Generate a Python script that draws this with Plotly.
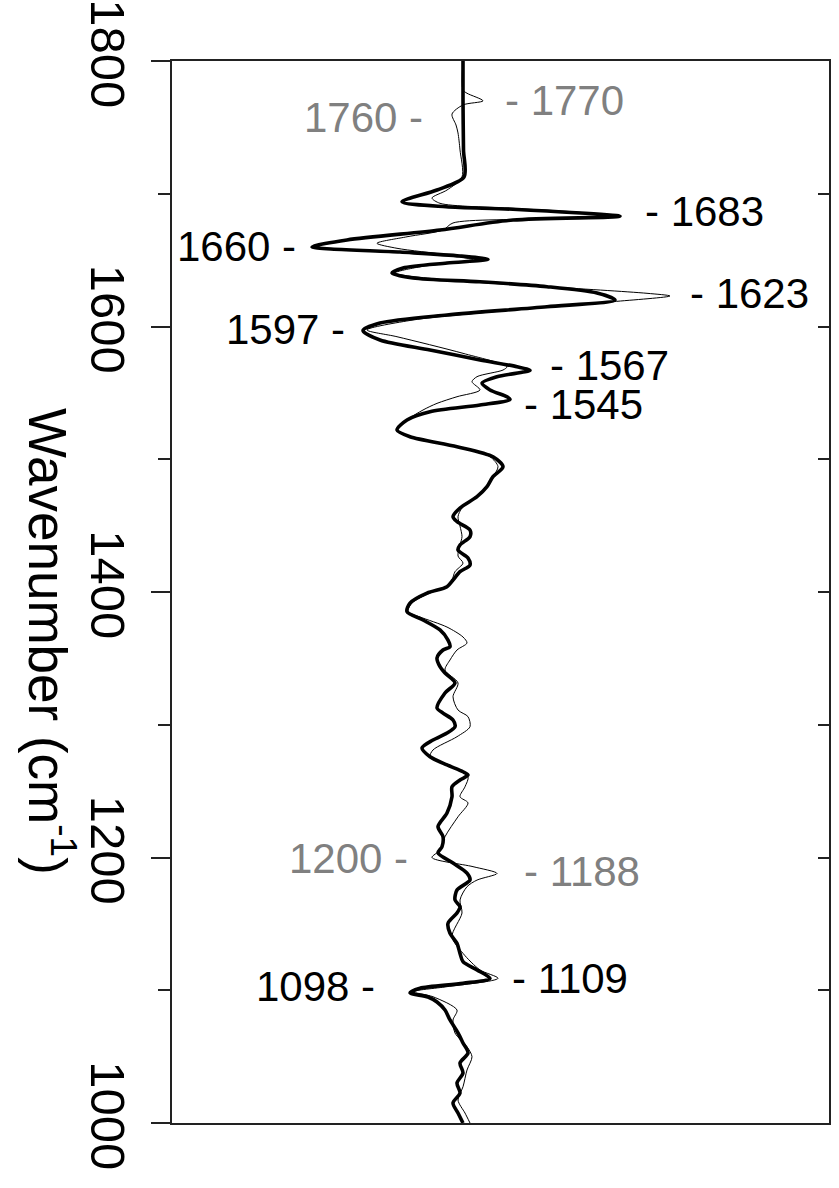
import plotly.graph_objects as go

# Difference spectra: wavenumber (cm-1) and intensity (arbitrary units)
wn_a = [1800, 1770.6, 1733, 1712.6, 1702.8, 1694, 1690.2, 1688.3, 1683, 1680.2,
        1672.7, 1665.2, 1660, 1656.1, 1653.1, 1650.5, 1647.8, 1644.1, 1640.3, 1636.5,
        1633.7, 1630, 1625.2, 1620, 1614.9, 1608.7, 1602.6, 1597, 1589.8, 1582.3,
        1574.8, 1569.7, 1567, 1562.2, 1557.4, 1552.2, 1547.1, 1545, 1540.9, 1535.8,
        1529.6, 1522, 1517, 1509.5, 1501.9, 1494.4, 1486.9, 1479.3, 1471.8, 1463.3,
        1456.7, 1453, 1446.7, 1441.7, 1435.4, 1431.6, 1425.6, 1420.3, 1415.3, 1409,
        1404, 1399.2, 1391.7, 1385.2, 1378.9, 1371.4, 1363.8, 1358.8, 1356.3, 1350.3,
        1343.7, 1339, 1331.5, 1323.9, 1312.6, 1308.8, 1303.6, 1298.5, 1293.8, 1288.5,
        1282.5, 1275.9, 1269.7, 1264.6, 1262.1, 1258.4, 1253.3, 1245.8, 1233.5, 1223.2,
        1215.7, 1208.1, 1203.4, 1195.8, 1188.3, 1183, 1175.5, 1168, 1162.9, 1158.2,
        1150.4, 1142.9, 1135.4, 1127.8, 1121.5, 1115.3, 1109, 1105.2, 1101.5, 1098,
        1094.9, 1091.1, 1085.1, 1077.6, 1067.8, 1060.3, 1052.7, 1045.2, 1037.7, 1030.1,
        1022.6, 1015.1, 1007.5, 1000]
int_a = [0.01, 0.01, 0.015, 0.02, -0.25, -0.60, -0.16, 0.51, 1.58, 0.51,
         -0.22, -1.15, -1.50, -0.62, -0.02, 0.26, -0.15, -0.59, -0.70, -0.49,
         0.18, 0.85, 1.35, 1.53, 0.85, -0.15, -0.82, -0.99, -0.82, -0.32,
         0.18, 0.55, 0.68, 0.35, 0.20, 0.28, 0.45, 0.48, 0.18, -0.32,
         -0.55, -0.65, -0.52, -0.05, 0.31, 0.41, 0.31, 0.25, 0.15, -0.02,
         -0.09, -0.05, 0.08, 0.08, -0.02, -0.04, 0.06, 0.08, -0.02, -0.09,
         -0.15, -0.35, -0.52, -0.55, -0.39, -0.22, -0.14, -0.12, -0.19, -0.25,
         -0.22, -0.17, -0.07, -0.17, -0.25, -0.19, -0.09, -0.07, -0.15, -0.29,
         -0.40, -0.32, -0.15, 0.01, 0.06, -0.02, -0.10, -0.10, -0.15, -0.24,
         -0.19, -0.20, -0.24, -0.09, 0.05, 0.08, -0.05, -0.07, -0.02, -0.05,
         -0.14, -0.12, -0.05, -0.02, 0.01, 0.15, 0.28, 0.01, -0.42, -0.52,
         -0.34, -0.25, -0.17, -0.12, -0.04, 0.01, 0.06, -0.02, 0.01, -0.05,
         -0.02, -0.09, -0.04, 0.01]

wn_b = [1800, 1778.2, 1775.7, 1770, 1766.9, 1760, 1751.8, 1745.8, 1733, 1712.6,
        1702.8, 1696.8, 1692.8, 1689, 1686, 1683, 1681, 1678, 1672.7, 1667.6,
        1662.7, 1658.9, 1653.9, 1650.1, 1645, 1640.3, 1635, 1630, 1625, 1623,
        1618.7, 1612.4, 1604.9, 1597.4, 1592.3, 1579.8, 1569.7, 1567.2, 1562.2, 1558.4,
        1552.2, 1547.1, 1542.1, 1537.1, 1529.6, 1522, 1517, 1509.5, 1501.9, 1494.4,
        1486.9, 1479.3, 1471.8, 1463.3, 1456.7, 1449.7, 1441.7, 1435.4, 1427.1, 1421.8,
        1415.3, 1409, 1404, 1399.2, 1391.7, 1385.2, 1381.2, 1373.6, 1366.1, 1361.6,
        1356.3, 1348.8, 1341.2, 1331.5, 1321.1, 1311.1, 1306.1, 1298.5, 1291, 1281,
        1275.9, 1269.7, 1260.9, 1253.3, 1245.8, 1241.1, 1230.7, 1215.7, 1205.6, 1200,
        1193.1, 1188, 1183, 1178, 1168, 1158.2, 1140.3, 1127.8, 1115.3, 1109,
        1102.7, 1098.9, 1095.1, 1085.1, 1077.6, 1067.8, 1057.5, 1049.9, 1039.9, 1027.3,
        1017.3, 1007.5, 1000]
int_b = [0.01, 0.01, 0.05, 0.21, 0.01, -0.10, -0.06, -0.04, -0.02, 0.00,
         -0.15, -0.30, -0.22, 0.51, 1.18, 1.48, 0.85, -0.09, -0.19, -0.55,
         -0.85, -0.65, -0.15, 0.11, -0.42, -0.67, -0.15, 0.85, 1.85, 2.08,
         1.51, 0.51, -0.49, -0.95, -0.65, 0.01, 0.45, 0.41, 0.15, 0.10,
         0.18, -0.05, -0.25, -0.39, -0.55, -0.65, -0.52, -0.05, 0.28, 0.36,
         0.31, 0.25, 0.15, 0.00, -0.04, -0.02, 0.00, -0.02, -0.04, 0.01,
         -0.07, -0.10, -0.15, -0.32, -0.50, -0.54, -0.42, -0.15, 0.01, 0.05,
         -0.05, -0.12, -0.17, -0.04, -0.09, -0.04, 0.06, 0.08, -0.05, -0.29,
         -0.32, -0.15, 0.06, 0.03, -0.02, 0.06, -0.04, -0.17, -0.22, -0.30,
         0.11, 0.35, 0.15, 0.05, -0.02, 0.00, -0.10, 0.01, 0.18, 0.36,
         -0.15, -0.49, -0.29, -0.05, -0.09, -0.07, 0.05, 0.10, 0.05, 0.01,
         -0.04, 0.03, 0.08]

# Band labels: text, x position (intensity), y position (wavenumber), side, colour
label_text = ["1760 -", "- 1770", "- 1683", "1660 -", "- 1623", "1597 -",
              "- 1567", "- 1545", "1200 -", "- 1188", "1098 -", "- 1109"]
label_x = [-0.37, 0.41, 1.81, -1.64, 2.26, -1.15, 0.86, 0.60, -0.52, 0.60, -0.85, 0.48]
label_y = [1757.8, 1769.9, 1686.5, 1660.6, 1625.2, 1597.4, 1571, 1540.9,
           1199.6, 1189.1, 1102.7, 1108.5]
label_side = ["right", "left", "left", "right", "left", "right",
              "left", "left", "right", "left", "right", "left"]
label_color = ["#808080", "#808080", "black", "black", "black", "black",
               "black", "black", "#808080", "#808080", "black", "black"]

y_ticks = [1000, 1200, 1400, 1600, 1800]

FONT = "Liberation Sans, Arial, sans-serif"
AXIS_COLOR = "#222222"

fig = go.Figure()
fig.add_trace(go.Scatter(x=int_b, y=wn_b, mode="lines",
                         line=dict(color="black", width=1, shape="spline", smoothing=0.8),
                         hoverinfo="skip", showlegend=False))
fig.add_trace(go.Scatter(x=int_a, y=wn_a, mode="lines",
                         line=dict(color="black", width=3.6, shape="spline", smoothing=0.8),
                         hoverinfo="skip", showlegend=False))
# empty trace that carries the right-hand (inner tick) axis
fig.add_trace(go.Scatter(x=[None], y=[None], yaxis="y2", mode="lines",
                         hoverinfo="skip", showlegend=False))

for t, x, y, side, c in zip(label_text, label_x, label_y, label_side, label_color):
    fig.add_annotation(x=x, y=y, text=t, showarrow=False, xanchor=side, yanchor="middle",
                       font=dict(family=FONT, size=42, color=c))

fig.add_annotation(xref="paper", yref="paper", x=(52 - 172) / 657, y=1 - (641 - 61) / 1062,
                   text="Wavenumber (cm<sup>-1</sup>)", textangle=90, showarrow=False,
                   xanchor="center", yanchor="middle",
                   font=dict(family=FONT, size=53, color="black"))

fig.update_layout(
    width=839, height=1188,
    margin=dict(l=172, r=10, t=61, b=65, autoexpand=False),
    paper_bgcolor="white", plot_bgcolor="white",
    xaxis=dict(range=[-2.90, 3.67], showgrid=False, zeroline=False, showticklabels=False,
               ticks="", showline=True, linecolor=AXIS_COLOR, linewidth=1.5, mirror=True,
               automargin=False),
    yaxis=dict(range=[1000, 1800], tickvals=y_ticks, ticktext=[str(v) for v in y_ticks],
               ticks="outside", ticklen=19, tickwidth=1.5, tickcolor=AXIS_COLOR,
               minor=dict(dtick=100, ticks="outside", ticklen=12, tickwidth=1.5,
                          tickcolor=AXIS_COLOR, showgrid=False),
               tickangle=90, tickfont=dict(family=FONT, size=49, color="black"),
               ticklabelstandoff=1, ticklabeloverflow="allow", automargin=False,
               showgrid=False, zeroline=False, showline=True, linecolor=AXIS_COLOR,
               linewidth=1.5),
    yaxis2=dict(range=[1000, 1800], overlaying="y", side="right", dtick=100, tick0=1000,
                ticks="inside", ticklen=11, tickwidth=1.5, tickcolor=AXIS_COLOR,
                showticklabels=False, showgrid=False, zeroline=False, automargin=False,
                showline=True, linecolor=AXIS_COLOR, linewidth=1.5),
)

fig.write_html("out.html")
